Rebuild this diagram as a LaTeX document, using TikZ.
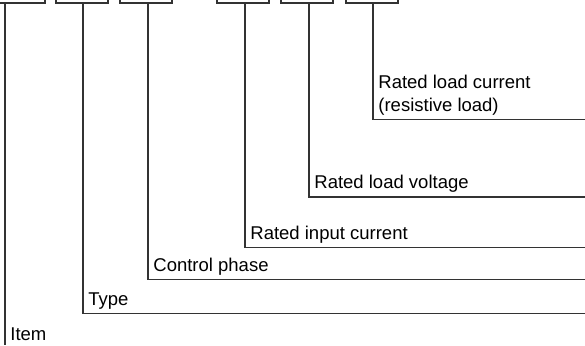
\documentclass[tikz,border=0pt]{standalone}
\usepackage{fontspec}
\setmainfont{Liberation Sans}
\usepackage{tikz}
\usetikzlibrary{positioning}

\begin{document}
\begin{tikzpicture}[
    x=0.5pt, y=-0.5pt,
    font=\fontsize{9.25}{11.5}\selectfont,
    digit/.style={draw=black!80, line width=0.6pt,
                  minimum width=26pt, minimum height=20pt},
    lead/.style={draw=black!80, line width=0.6pt},
    lbl/.style={anchor=south west, align=left,
                inner xsep=2.5pt, inner ysep=2pt}
  ]
    \clip (0,0) rectangle (585,345);
    % code boxes, only their lower edges are in view
    \node[digit] (b1) at (19,-17)  {};
    \node[digit] (b2) at (82,-17)  {};
    \node[digit] (b3) at (146,-17) {};
    \node[digit] (b4) at (243,-17) {};
    \node[digit] (b5) at (307,-17) {};
    \node[digit] (b6) at (372,-17) {};
    % corners of the leader lines
    \coordinate (t1) at (5,345);
    \coordinate (t2) at (83,313.5);
    \coordinate (t3) at (148,279.5);
    \coordinate (t4) at (245,247.5);
    \coordinate (t5) at (309,197);
    \coordinate (t6) at (373,119.5);
    \coordinate (rgt) at (585,0);
    \draw[lead] (b1.south -| t1) -- (t1);
    \draw[lead] (b2.south -| t2) -- (t2) -- (t2 -| rgt);
    \draw[lead] (b3.south -| t3) -- (t3) -- (t3 -| rgt);
    \draw[lead] (b4.south -| t4) -- (t4) -- (t4 -| rgt);
    \draw[lead] (b5.south -| t5) -- (t5) -- (t5 -| rgt);
    \draw[lead] (b6.south -| t6) -- (t6) -- (t6 -| rgt);
    % labels
    \node[lbl] (item)  at (t1) {Item};
    \node[lbl] (type)  at (t2) {Type};
    \node[lbl] (phase) at (t3) {Control phase};
    \node[lbl] (inp)   at (t4) {Rated input current};
    \node[lbl] (volt)  at (t5) {Rated load voltage};
    \node[lbl] (curr)  at (t6) {Rated load current\\(resistive load)};
  \end{tikzpicture}
\end{document}
